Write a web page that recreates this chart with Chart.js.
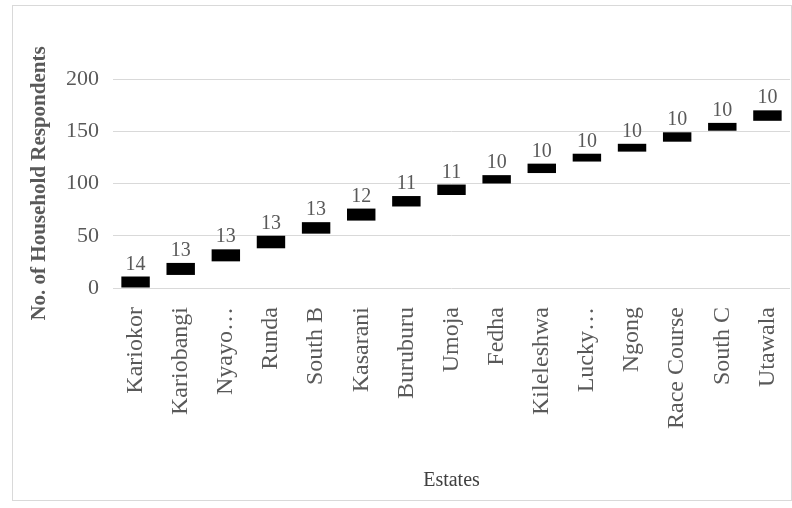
<!DOCTYPE html>
<html>
<head>
<meta charset="utf-8">
<script src="https://cdn.jsdelivr.net/npm/chart.js@4.4.0/dist/chart.umd.min.js"></script>
<style>
html, body { margin: 0; padding: 0; background: #fff; }
#box { position: absolute; left: 12px; top: 5px; width: 778px; height: 494px; border: 1px solid #d9d9d9; }
</style>
</head>
<body>
<div id="box"><canvas id="estatesCanvas" width="778" height="494"></canvas></div>
<script>
// Estates
const estates = ["Kariokor", "Kariobangi", "Nyayo…", "Runda", "South B", "Kasarani", "Buruburu",
    "Umoja", "Fedha", "Kileleshwa", "Lucky…", "Ngong", "Race Course", "South C", "Utawala"];

// number shown above each mark
const respondents = [14, 13, 13, 13, 13, 12, 11, 11, 10, 10, 10, 10, 10, 10, 10];

// bottom and top of each floating mark
const markLow  = [0, 12.5, 25.5, 38, 52, 64.5, 78, 89, 100, 110, 121, 130.5, 140, 150.5, 160];
const markHigh = [11, 24, 37, 50, 63, 76, 88, 99, 108, 119, 128.5, 138, 149, 158, 170];

const yTicks = [0, 50, 100, 150, 200];

const serif = "'Liberation Serif', 'Times New Roman', serif";
const grey = "#595959";

const valueLabels = {
    id: "valueLabels",
    afterDatasetsDraw(chart) {
        const ctx = chart.ctx;
        const meta = chart.getDatasetMeta(0);
        ctx.save();
        ctx.font = "20px " + serif;
        ctx.fillStyle = grey;
        ctx.textAlign = "center";
        ctx.textBaseline = "alphabetic";
        meta.data.forEach((bar, i) => {
            ctx.fillText(String(respondents[i]), bar.x, bar.y - 7);
        });
        ctx.restore();
    }
};

const ctxEstates = document.getElementById("estatesCanvas");

const estatesChart = new Chart(ctxEstates, {
    type: "bar",
    data: {
        labels: estates,
        datasets: [
            {
                label: "Respondents",
                data: markLow.map((lo, i) => [lo, markHigh[i]]),
                backgroundColor: "#000000",
                borderWidth: 0,
                categoryPercentage: 1,
                barPercentage: 0.63
            }
        ]
    },
    options: {
        responsive: false,
        animation: false,
        layout: { padding: { top: 73, right: 1, left: 0, bottom: 0 } },
        plugins: {
            legend: { display: false },
            tooltip: { enabled: false }
        },
        scales: {
            x: {
                grid: { display: false, drawTicks: false },
                border: { display: false },
                ticks: {
                    minRotation: 90,
                    maxRotation: 90,
                    autoSkip: false,
                    padding: 19,
                    color: grey,
                    font: { family: serif, size: 24 }
                },
                title: {
                    display: true,
                    text: "Estates",
                    color: "#404040",
                    padding: { top: 0, bottom: 7 },
                    font: { family: serif, size: 20 }
                },
                afterFit(scale) {
                    scale.height = 212;
                    scale.paddingLeft = 0;
                    scale.paddingRight = 0;
                }
            },
            y: {
                min: 0,
                max: 200,
                afterBuildTicks(scale) { scale.ticks = yTicks.map(v => ({ value: v })); },
                grid: { color: "#d9d9d9", drawTicks: false },
                border: { display: false },
                ticks: {
                    padding: 14,
                    color: grey,
                    font: { family: serif, size: 22 }
                },
                title: {
                    display: true,
                    text: "No. of Household Respondents",
                    color: grey,
                    padding: { top: 14, bottom: 0 },
                    font: { family: serif, size: 21, weight: "bold" }
                },
                afterFit(scale) { scale.width = 100; }
            }
        }
    },
    plugins: [valueLabels]
});
</script>
</body>
</html>
